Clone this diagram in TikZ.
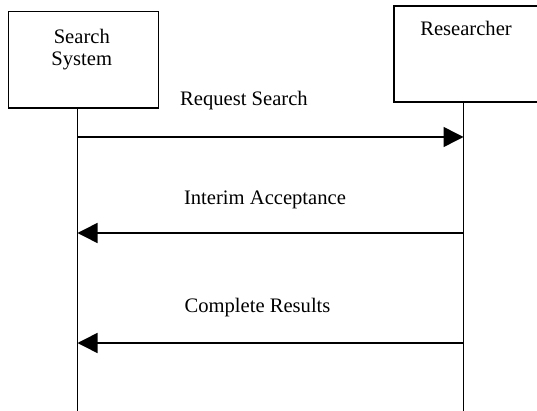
\documentclass[tikz,border=0pt]{standalone}
\usepackage{fontspec}
\setmainfont{Liberation Serif}
\usetikzlibrary{arrows.meta}
\begin{document}
\begin{tikzpicture}[x=1pt,y=1pt,
  every node/.style={inner sep=0pt, outer sep=0pt},
  lbl/.style={font=\fontsize{20.6}{22.2}\selectfont, anchor=base, align=center},
  actor/.style={draw, line width=1.6pt, rectangle, anchor=north west},
  life/.style={line width=1.6pt},
  msg/.style={line width=1.5pt, -{Triangle[length=20pt,width=20pt]}}]
\useasboundingbox (0,0) rectangle (537,-411);
\clip (0,0) rectangle (537,-411);
% actor boxes
\node[actor, minimum width=150pt, minimum height=96.5pt] (ss) at (8.5,-11.5) {};
\node[actor, minimum width=160pt, minimum height=96pt] (rs) at (394,-6) {};
% actor labels
\node[lbl] (sst) at (81.8,-65.3) {Search\\System};
\node[lbl] (rst) at (466,-36) {Researcher};
% lifeline ends
\coordinate (lb) at (77.5,-411);
\coordinate (rb) at (463.5,-411);
\draw[life] (ss.south -| lb) -- (lb);
\draw[life] (rs.south -| rb) -- (rb);
% message endpoints
\coordinate (m1l) at (77.5,-137);
\coordinate (m1r) at (463.5,-137);
\coordinate (m2l) at (77.5,-233);
\coordinate (m2r) at (463.5,-233);
\coordinate (m3l) at (77.5,-343);
\coordinate (m3r) at (463.5,-343);
\draw[msg] (m1l) -- (m1r);
\draw[msg] (m2r) -- (m2l);
\draw[msg] (m3r) -- (m3l);
% message labels
\node[lbl] (t1) at (244,-106) {Request Search};
\node[lbl] (t2) at (265,-205) {Interim Acceptance};
\node[lbl] (t3) at (257.5,-312) {Complete Results};
\end{tikzpicture}
\end{document}
